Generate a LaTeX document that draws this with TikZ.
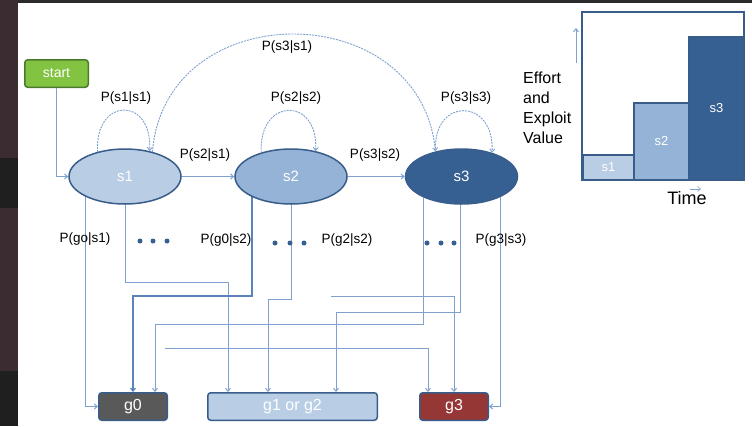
\documentclass[tikz,border=0pt]{standalone}
\usepackage{fontspec}
\setmainfont{Liberation Sans}
\usetikzlibrary{arrows.meta,shapes.geometric}
\definecolor{lb}{HTML}{B9CDE5}
\definecolor{mb}{HTML}{95B3D7}
\definecolor{db}{HTML}{376092}
\definecolor{bd}{HTML}{385D8A}
\definecolor{ln}{HTML}{7EA1D0}
\definecolor{lnd}{HTML}{5C82BC}
\definecolor{gr}{HTML}{82C341}
\definecolor{grb}{HTML}{4A7A2C}
\definecolor{gy}{HTML}{595959}
\definecolor{rd}{HTML}{953735}
\definecolor{frameA}{HTML}{3A2C30}
\definecolor{frameB}{HTML}{1F1F1F}
\definecolor{frameC}{HTML}{2C2A2B}
\pgfdeclarelayer{bg}
\pgfdeclarelayer{wires}
\pgfsetlayers{bg,wires,main}
\begin{document}
\begin{tikzpicture}[x=1pt,y=-1pt,
  state/.style={ellipse, draw=bd, line width=1.5pt, minimum width=112pt, minimum height=55pt, inner sep=0pt, text=white, font=\fontsize{15}{15}\selectfont},
  goal/.style={rectangle, rounded corners=3pt, draw=bd, line width=1.5pt, minimum height=27.5pt, inner sep=0pt, text=white, font=\fontsize{16}{16}\selectfont},
  startbox/.style={rectangle, rounded corners=3pt, draw=grb, fill=gr, line width=1.5pt, minimum width=63.5pt, minimum height=27.5pt, inner sep=0pt, text=white, font=\fontsize{14}{14}\selectfont},
  bar/.style={rectangle, draw=bd, line width=1.2pt, inner sep=0pt, text=white, font=\fontsize{13}{13}\selectfont},
  conn/.style={draw=ln, line width=1pt},
  tip/.style={-{Straight Barb[length=3pt,width=5pt]}},
  lbl/.style={font=\fontsize{13.5}{13.5}\selectfont, text=black, inner sep=0pt},
  loopline/.style={draw=ln, line width=0.9pt, dash pattern=on 2pt off 1pt},
  dotnode/.style={circle, fill=db, inner sep=0pt, minimum size=5pt}
]
\useasboundingbox (0,0) rectangle (752,426);
\begin{pgfonlayer}{bg}
  \fill[frameA] (0,0) rectangle (752,426);
  \fill[frameB] (0,158) rectangle (18,208);
  \fill[frameB] (0,371) rectangle (18,426);
  \fill[frameC] (18,0) rectangle (752,3);
  \fill[white] (18,3) rectangle (752,426);
\end{pgfonlayer}

% main nodes
\node[startbox] (start) at (56.5,73.5) {start};
\node[state, fill=lb] (s1) at (125,176.5) {s1};
\node[state, fill=mb] (s2) at (291,176.5) {s2};
\node[state, fill=db] (s3) at (461.5,176.5) {s3};
\node[goal, fill=gy, minimum width=68.5pt] (g0) at (133,406.5) {g0};
\node[goal, fill=lb, minimum width=169.5pt] (g12) at (292.5,406.5) {g1 or g2};
\node[goal, fill=rd, minimum width=68.5pt] (g3) at (454,406.5) {g3};

% transitions
\draw[conn,tip] (start.south) |- (s1.west);
\draw[conn,tip] (s1.east) -- (s2.west);
\draw[conn,tip] (s2.east) -- (s3.west);
\draw[loopline,tip] (s1.138) .. controls +(-3,-55) and +(3,-55) .. (s1.46);
\draw[loopline,tip] (s2.141) .. controls +(-3,-55) and +(3,-55) .. (s2.46);
\draw[loopline,tip] (s3.136) .. controls +(-3,-55) and +(3,-55) .. (s3.38);
\draw[loopline,tip] (s1.42) .. controls (165,-5) and (420,-5) .. (s3.136);

% labels
\node[lbl] (l11) at (126,98) {P(s1|s1)};
\node[lbl] (l22) at (296,98) {P(s2|s2)};
\node[lbl] (l33) at (466,98) {P(s3|s3)};
\node[lbl] (l31) at (287,47) {P(s3|s1)};
\node[lbl] (l21) at (205,155) {P(s2|s1)};
\node[lbl] (l32) at (375,155) {P(s3|s2)};
\node[lbl] (lg01) at (85,239) {P(go|s1)};
\node[lbl] (lg02) at (226,240) {P(g0|s2)};
\node[lbl] (lg22) at (347,240) {P(g2|s2)};
\node[lbl] (lg33) at (501,240) {P(g3|s3)};

% dots
\node[dotnode] (d1) at (140,241) {};
\node[dotnode] (d2) at (153,241) {};
\node[dotnode] (d3) at (167,241) {};
\node[dotnode] (d4) at (275,243) {};
\node[dotnode] (d5) at (290,243) {};
\node[dotnode] (d6) at (304,243) {};
\node[dotnode] (d7) at (427,243) {};
\node[dotnode] (d8) at (441,243) {};
\node[dotnode] (d9) at (454,243) {};

% exits to goals
\coordinate (f1) at (165,348);
\coordinate (f2) at (331,296);
\begin{pgfonlayer}{wires}
  \draw[conn,tip] (s1.center -| 85,0) |- (g0.west);
  \draw[conn,tip] (s1.center) |- (228,282) -- (g12.north -| 228,0);
  \draw[conn,tip,draw=lnd,line width=1.2pt] (s2.center -| 252,0) |- (133,296) -- (g0.north);
  \draw[conn,tip] (s2.center) |- (268,299) -- (g12.north -| 268,0);
  \draw[conn,tip] (s3.center -| 423,0) |- (155,324) -- (g0.north -| 155,0);
  \draw[conn,tip] (f1) -| (g3.north -| 428,0);
  \draw[conn,tip] (s3.center -| 460,0) |- (336,312) -- (g12.north -| 336,0);
  \draw[conn,tip] (f2) -| (g3.north);
  \draw[conn,tip] (s3.center -| 500,0) |- (g3.east);
\end{pgfonlayer}

% chart
\node[draw=bd, line width=1.5pt, fill=white, minimum width=162pt, minimum height=168pt, inner sep=0pt] (chart) at (663,96) {};
\node[bar, fill=lb, minimum width=51pt, minimum height=25pt] (b1) at (608.5,167.5) {s1};
\node[bar, fill=mb, minimum width=55pt, minimum height=77pt] (b2) at (661.5,141.5) {s2};
\node[bar, fill=db, minimum width=55pt, minimum height=143pt] (b3) at (716.5,108.5) {s3};
\coordinate (ya) at (576,63);
\coordinate (yb) at (576,28);
\draw[conn,tip] (ya) -- (yb);
\node[align=left, anchor=north west, inner sep=0pt, font=\fontsize{16}{20}\selectfont] (eff) at (523,72) {Effort\\and\\Exploit\\Value};
\node[inner sep=0pt, font=\fontsize{18}{18}\selectfont] (time) at (687,198) {Time};
\coordinate (ta) at (690,189);
\coordinate (tb) at (701,189);
\draw[conn,tip,line width=0.6pt] (ta) -- (tb);
\end{tikzpicture}
\end{document}
